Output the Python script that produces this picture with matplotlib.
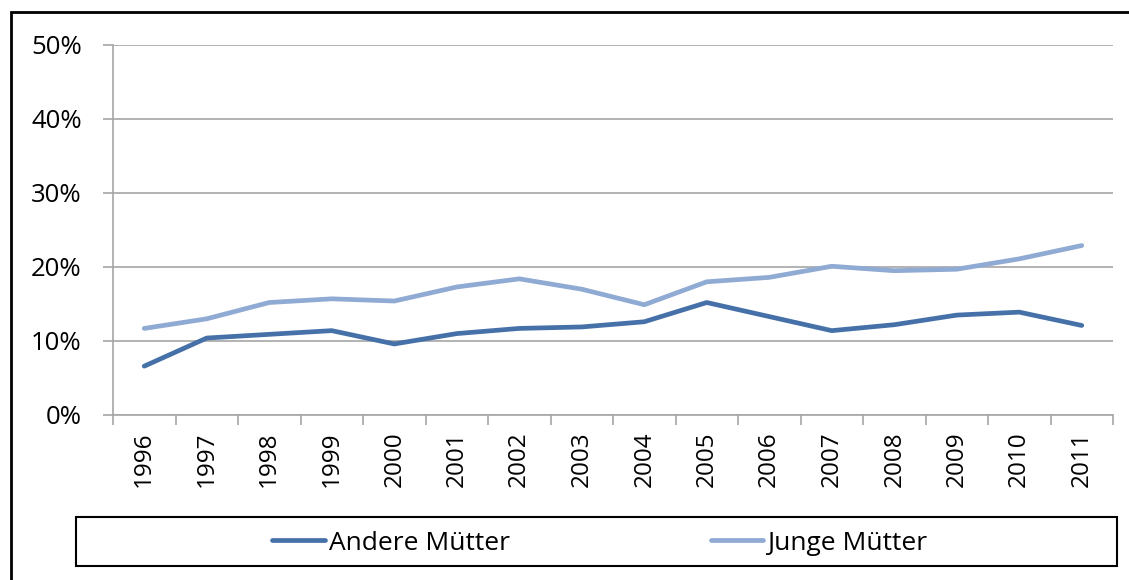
import matplotlib
matplotlib.use("Agg")
import matplotlib.pyplot as plt
from matplotlib.patches import Rectangle
from matplotlib.ticker import FixedLocator, PercentFormatter
import numpy as np

years = ["1996", "1997", "1998", "1999", "2000", "2001", "2002", "2003",
         "2004", "2005", "2006", "2007", "2008", "2009", "2010", "2011"]
andere = [6.6, 10.4, 10.9, 11.4, 9.6, 11.0, 11.7, 11.9,
          12.6, 15.2, 13.3, 11.4, 12.2, 13.5, 13.9, 12.1]
junge = [11.7, 13.0, 15.2, 15.7, 15.4, 17.3, 18.4, 17.0,
         14.9, 18.0, 18.6, 20.1, 19.5, 19.7, 21.1, 22.9]
series_names = ["Andere Mütter", "Junge Mütter"]
yticks = [0, 10, 20, 30, 40, 50]

plt.rcParams['font.family'] = ['Open Sans', 'DejaVu Sans']

W, H = 1129, 580
fig = plt.figure(figsize=(W / 100, H / 100), dpi=100)
ax = fig.add_axes([113 / W, 1 - 415 / H, (1113 - 113) / W, (415 - 45) / H])

x = np.arange(len(years))
dark = "#4571A8"
light = "#8FAAD3"
l1, = ax.plot(x, andere, color=dark, lw=3.4, solid_capstyle='round', label=series_names[0])
l2, = ax.plot(x, junge, color=light, lw=3.4, solid_capstyle='round', label=series_names[1])

ax.set_xlim(-0.5, len(years) - 0.5)
ax.set_ylim(0, 50)
ax.set_yticks(yticks)
ax.yaxis.set_major_formatter(PercentFormatter(decimals=0))
ax.grid(axis='y', color='#A6A6A6', lw=1.2)
ax.set_axisbelow(True)

ax.xaxis.set_major_locator(FixedLocator(np.arange(-0.5, len(years), 1.0)))
ax.xaxis.set_minor_locator(FixedLocator(x))
ax.set_xticklabels([], minor=False)
ax.set_xticklabels(years, minor=True, rotation=90, fontsize=17.5)
ax.tick_params(axis='x', which='major', length=7.5, width=1.2, color='#A6A6A6', direction='out')
ax.tick_params(axis='x', which='minor', length=0, pad=12)
ax.tick_params(axis='y', length=7.5, width=1.2, color='#A6A6A6', pad=15, labelsize=18.5)

for s in ['top', 'right']:
    ax.spines[s].set_visible(False)
for s in ['left', 'bottom']:
    ax.spines[s].set_color('#A6A6A6')
    ax.spines[s].set_linewidth(1.2)

# outer frame
fig.patches.append(Rectangle((11 / W, -0.05), 1.2, 1 - 12 / H + 0.05, transform=fig.transFigure,
                             fill=False, edgecolor='black', lw=2))
# legend frame
fig.patches.append(Rectangle((76 / W, 1 - 566 / H), (1117 - 76) / W, 49 / H,
                             transform=fig.transFigure, fill=False, edgecolor='black', lw=1.5))
fig.legend(handles=[l1, l2], loc='center', bbox_to_anchor=(600 / W, 1 - 543 / H),
           ncol=2, frameon=False, fontsize=19, handlelength=2.0, handletextpad=0.15,
           columnspacing=7.6)

fig.savefig("out.png", dpi=100)
